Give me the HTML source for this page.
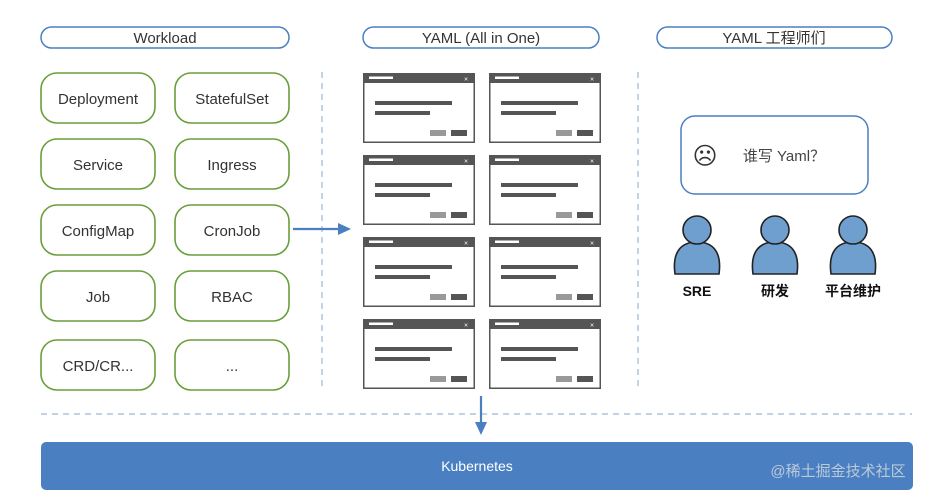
<!DOCTYPE html>
<html><head><meta charset="utf-8"><style>
html,body{margin:0;padding:0;background:#fff;width:937px;height:499px;overflow:hidden}
text{font-family:"Liberation Sans","Noto Sans CJK SC",sans-serif}
</style></head><body>
<svg width="937" height="499" viewBox="0 0 937 499" xmlns="http://www.w3.org/2000/svg">
<defs>
<g id="win">
<rect x="0.75" y="0.75" width="110.5" height="68.5" fill="#fff" stroke="#555" stroke-width="1.5"/>
<rect x="0" y="0" width="112" height="10" fill="#555"/>
<rect x="6" y="3.5" width="24" height="2.5" fill="#fff"/>
<text x="103" y="8.5" font-size="7" fill="#fff" text-anchor="middle">×</text>
<rect x="12" y="28" width="77" height="4" fill="#555"/>
<rect x="12" y="38" width="55" height="4" fill="#555"/>
<rect x="67" y="57" width="16" height="6" fill="#999"/>
<rect x="88" y="57" width="16" height="6" fill="#555"/>
</g>
<g id="person">
<path d="M-22,44 C-25,22 -16,12 0,12 C16,12 25,22 22,44 Z" fill="#6f9fcf" stroke="#222" stroke-width="1.6"/>
<circle cx="0" cy="0" r="14" fill="#6f9fcf" stroke="#222" stroke-width="1.6"/>
</g>
</defs>
<g fill="none" stroke="#4a7fc1" stroke-width="1.5">
<rect x="41" y="27" width="248" height="21" rx="10.5"/>
<rect x="363" y="27" width="236" height="21" rx="10.5"/>
<rect x="657" y="27" width="235" height="21" rx="10.5"/>
<rect x="681" y="116" width="187" height="78" rx="14"/>
</g>
<g font-size="15" fill="#333" text-anchor="middle">
<text x="165" y="43">Workload</text>
<text x="481" y="43">YAML (All in One)</text>
<text x="774" y="43">YAML 工程师们</text>
</g>
<g fill="none" stroke="#6a9e3a" stroke-width="1.6">
<rect x="41" y="73" width="114" height="50" rx="16"/><rect x="175" y="73" width="114" height="50" rx="16"/>
<rect x="41" y="139" width="114" height="50" rx="16"/><rect x="175" y="139" width="114" height="50" rx="16"/>
<rect x="41" y="205" width="114" height="50" rx="16"/><rect x="175" y="205" width="114" height="50" rx="16"/>
<rect x="41" y="271" width="114" height="50" rx="16"/><rect x="175" y="271" width="114" height="50" rx="16"/>
<rect x="41" y="340" width="114" height="50" rx="16"/><rect x="175" y="340" width="114" height="50" rx="16"/>
</g>
<g font-size="15" fill="#333" text-anchor="middle">
<text x="98" y="104">Deployment</text><text x="232" y="104">StatefulSet</text>
<text x="98" y="170">Service</text><text x="232" y="170">Ingress</text>
<text x="98" y="236">ConfigMap</text><text x="232" y="236">CronJob</text>
<text x="98" y="302">Job</text><text x="232" y="302">RBAC</text>
<text x="98" y="371">CRD/CR...</text><text x="232" y="371">...</text>
</g>
<g stroke="#9ab8d4" stroke-width="1.2" stroke-dasharray="6,5">
<line x1="322" y1="72" x2="322" y2="390"/>
<line x1="638" y1="72" x2="638" y2="390"/>
<line x1="41" y1="414" x2="912" y2="414"/>
</g>
<use href="#win" x="363" y="73"/><use href="#win" x="489" y="73"/>
<use href="#win" x="363" y="155"/><use href="#win" x="489" y="155"/>
<use href="#win" x="363" y="237"/><use href="#win" x="489" y="237"/>
<use href="#win" x="363" y="319"/><use href="#win" x="489" y="319"/>
<line x1="293" y1="229" x2="340" y2="229" stroke="#4a7fc1" stroke-width="2.2"/>
<path d="M351,229 L338,223 L338,235 Z" fill="#4a7fc1"/>
<line x1="481" y1="396" x2="481" y2="424" stroke="#4a7fc1" stroke-width="2.2"/>
<path d="M481,435 L475,422 L487,422 Z" fill="#4a7fc1"/>
<rect x="41" y="442" width="872" height="48" rx="5" fill="#4a80c2"/>
<text x="477" y="471" font-size="14" fill="#fff" text-anchor="middle">Kubernetes</text>
<text x="838" y="476" font-size="15" fill="#c8d2dc" text-anchor="middle" opacity="0.9">@稀土掘金技术社区</text>
<text x="705" y="164" font-size="24" fill="#333" text-anchor="middle">☹</text>
<text x="784" y="161" font-size="15" fill="#444" text-anchor="middle">谁写 Yaml？</text>
<use href="#person" x="697" y="230"/>
<use href="#person" x="775" y="230"/>
<use href="#person" x="853" y="230"/>
<g font-size="14" font-weight="bold" fill="#111" text-anchor="middle">
<text x="697" y="296">SRE</text><text x="775" y="296">研发</text><text x="853" y="296">平台维护</text>
</g>
</svg>
</body></html>
